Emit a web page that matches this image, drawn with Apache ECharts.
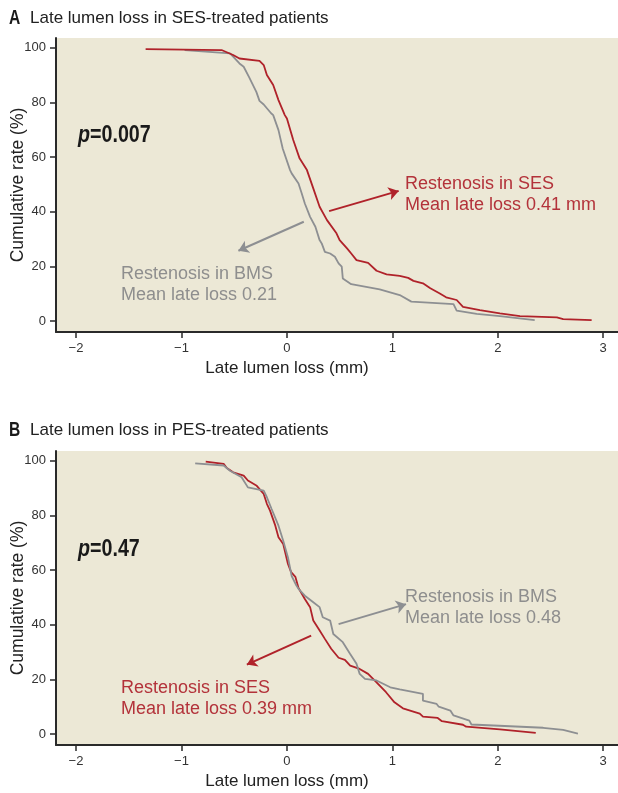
<!DOCTYPE html>
<html>
<head>
<meta charset="utf-8">
<script src="https://cdn.jsdelivr.net/npm/echarts@6/dist/echarts.min.js"></script>
<style>
html,body{margin:0;padding:0;background:#fff;}
#chart{width:618px;height:793px;}
</style>
</head>
<body>
<div id="chart"></div>
<script>
// ---- Data (late lumen loss mm, cumulative rate %) ----
const xTicks = [-2, -1, 0, 1, 2, 3];
const yTicks = [0, 20, 40, 60, 80, 100];

const panelA_SES = [[-1.34,99.4],[-0.62,99.1],[-0.51,97.3],[-0.45,96],[-0.26,95.1],[-0.22,93.6],[-0.19,90],[-0.13,86.3],[-0.08,80.8],[-0.02,75.3],[0.0,74.1],[0.06,66.2],[0.12,59.5],[0.19,55.2],[0.25,48.5],[0.31,41.8],[0.38,36.9],[0.47,32.1],[0.50,29.6],[0.57,26.6],[0.61,24.7],[0.66,22.3],[0.77,21.3],[0.85,18.4],[0.945,17.1],[1.07,16.5],[1.15,15.8],[1.20,14.7],[1.29,13.8],[1.36,12],[1.45,10.1],[1.51,8.7],[1.61,7.7],[1.67,5.2],[1.83,4.0],[2.02,2.8],[2.21,1.8],[2.56,1.35],[2.62,0.73],[2.89,0.37]];
const panelA_BMS = [[-0.97,99.1],[-0.54,97.9],[-0.51,96.7],[-0.45,94.2],[-0.41,93],[-0.36,89.3],[-0.29,83.8],[-0.26,80.5],[-0.22,79.2],[-0.15,76],[-0.13,75.3],[-0.08,69.8],[-0.04,63.1],[0.03,55.2],[0.045,54],[0.11,50.3],[0.14,46.7],[0.17,43],[0.22,38.1],[0.27,34.5],[0.31,29.6],[0.33,28.4],[0.36,25.3],[0.41,24.7],[0.455,23.5],[0.49,21.1],[0.52,19.9],[0.53,15.6],[0.61,13.5],[0.88,11.6],[1.07,9.5],[1.18,7.1],[1.58,6.2],[1.61,3.8],[1.80,2.6],[2.02,1.8],[2.35,0.37]];
const panelB_SES = [[-0.77,99.6],[-0.60,98.8],[-0.57,97.3],[-0.51,95.7],[-0.41,94.5],[-0.37,92.7],[-0.29,90.9],[-0.22,87.8],[-0.19,84.2],[-0.16,81.7],[-0.11,76.2],[-0.08,72],[-0.035,69.5],[0.01,62.2],[0.04,59.2],[0.08,57.5],[0.11,53.4],[0.17,49.4],[0.22,46.4],[0.25,41.5],[0.30,38.5],[0.36,34.8],[0.42,31.2],[0.49,27.9],[0.55,27.1],[0.60,25],[0.69,23.8],[0.77,22],[0.85,18.9],[0.94,15.3],[1.02,11.6],[1.10,9.4],[1.26,7.5],[1.29,6.4],[1.43,5.9],[1.47,4.7],[1.67,3.4],[1.70,2.7],[2.02,1.75],[2.36,0.44]];
const panelB_BMS = [[-0.87,99],[-0.60,98.2],[-0.54,96.3],[-0.43,93.9],[-0.37,90.2],[-0.22,89],[-0.19,86.6],[-0.145,82.3],[-0.08,76.2],[-0.035,70.7],[0.01,64.6],[0.045,57.8],[0.09,54.3],[0.11,53.1],[0.17,50.6],[0.25,48.2],[0.31,46.4],[0.34,42.7],[0.41,41.5],[0.44,36.6],[0.53,33.6],[0.60,29.3],[0.66,25.7],[0.69,22],[0.74,20.2],[0.85,19.6],[0.98,17.1],[1.07,16.3],[1.29,14.7],[1.29,12.2],[1.42,11],[1.44,10],[1.55,8.6],[1.58,6.8],[1.73,4.9],[1.75,3.5],[2.43,2.3],[2.62,1.5],[2.76,0.2]];

// arrows [from, to] in data coordinates
const arrowA_SES = [[0.40,40.2],[1.06,47.6]];
const arrowA_BMS = [[0.16,36.3],[-0.46,25.7]];
const arrowB_BMS = [[0.49,40.2],[1.13,47.5]];
const arrowB_SES = [[0.23,36.0],[-0.38,25.4]];

const RED = '#b0222a';
const GRAY = '#8d8f92';
const RED_TXT = '#b3323a';
const GRAY_TXT = '#8e8e8e';
const BG = '#ece8d6';
const AXIS = '#2a2a2a';
const SANS = '"Liberation Sans",Arial,sans-serif';

function xAx(gi){
  return {
    type:'value', gridIndex:gi, min:-2.19, max:3.14,
    axisLine:{show:true, onZero:false, lineStyle:{color:AXIS, width:2}},
    axisTick:{show:true, customValues:xTicks, length:6, lineStyle:{color:AXIS, width:1.5}},
    axisLabel:{customValues:xTicks, margin:10, color:'#333', fontFamily:SANS, fontSize:13,
      formatter:v=>String(v).replace('-', '\u2212')},
    splitLine:{show:false}
  };
}
function yAx(gi){
  return {
    type:'value', gridIndex:gi, min:-4, max:103.5,
    axisLine:{show:true, onZero:false, lineStyle:{color:AXIS, width:2}},
    axisTick:{show:true, customValues:yTicks, length:6, lineStyle:{color:AXIS, width:1.5}},
    axisLabel:{customValues:yTicks, margin:10, color:'#333', fontFamily:SANS, fontSize:13},
    splitLine:{show:false}
  };
}
function lineS(data, color, gi, arrow){
  const s = {
    type:'line', data:data, xAxisIndex:gi, yAxisIndex:gi,
    showSymbol:false, symbol:'none', smooth:false,
    lineStyle:{color:color, width:1.8}, itemStyle:{color:color},
    animation:false, silent:true
  };
  if (arrow){
    s.markLine = {
      silent:true, animation:false, symbol:['none','arrow'], symbolSize:[10,10],
      label:{show:false},
      lineStyle:{color:color, width:2, type:'solid'},
      data:[[{coord:arrow[0]},{coord:arrow[1]}]]
    };
  }
  return s;
}
function pText(y, str){
  return {type:'text', x:78, y:y, z:10, scaleX:0.82, style:{
    text:'{i|p}{b|' + str + '}', textVerticalAlign:'middle',
    rich:{i:{fontFamily:SANS, fontWeight:'bold', fontStyle:'italic', fontSize:24, fill:'#1a1a1a', color:'#1a1a1a'},
          b:{fontFamily:SANS, fontWeight:'bold', fontSize:24, fill:'#1a1a1a', color:'#1a1a1a'}}}};
}
function ann(x, y, text, color){
  return {type:'text', x:x, y:y, z:10, style:{text:text, fill:color, font:'18px '+SANS, textVerticalAlign:'middle'}};
}
function yName(cy){
  return {type:'text', x:18, y:cy, rotation:Math.PI/2, style:{text:'Cumulative rate (%)', fill:'#222', font:'17.5px '+SANS, textAlign:'center', textVerticalAlign:'middle'}};
}

const chart = echarts.init(document.getElementById('chart'), null, {renderer:'canvas'});
chart.setOption({
  animation:false,
  backgroundColor:'#ffffff',
  grid:[
    {left:56, right:0, top:38, height:294, show:true, backgroundColor:BG, borderWidth:0, containLabel:false, outerBoundsMode:'none'},
    {left:56, right:0, top:451, height:294, show:true, backgroundColor:BG, borderWidth:0, containLabel:false, outerBoundsMode:'none'}
  ],
  xAxis:[xAx(0), xAx(1)],
  yAxis:[yAx(0), yAx(1)],
  series:[
    lineS(panelA_BMS, GRAY, 0, arrowA_BMS),
    lineS(panelA_SES, RED, 0, arrowA_SES),
    lineS(panelB_SES, RED, 1, arrowB_SES),
    lineS(panelB_BMS, GRAY, 1, arrowB_BMS)
  ],
  graphic:[
    {type:'text', x:9, y:18, scaleX:0.78, style:{text:'A', fill:'#1a1a1a', font:'bold 20px '+SANS, textVerticalAlign:'middle'}},
    {type:'text', x:30, y:18, style:{text:'Late lumen loss in SES-treated patients', fill:'#222', font:'17px '+SANS, textVerticalAlign:'middle'}},
    {type:'text', x:9, y:430, scaleX:0.78, style:{text:'B', fill:'#1a1a1a', font:'bold 20px '+SANS, textVerticalAlign:'middle'}},
    {type:'text', x:30, y:430, style:{text:'Late lumen loss in PES-treated patients', fill:'#222', font:'17px '+SANS, textVerticalAlign:'middle'}},
    {type:'text', x:287, y:368, style:{text:'Late lumen loss (mm)', fill:'#222', font:'17px '+SANS, textAlign:'center', textVerticalAlign:'middle'}},
    {type:'text', x:287, y:781, style:{text:'Late lumen loss (mm)', fill:'#222', font:'17px '+SANS, textAlign:'center', textVerticalAlign:'middle'}},
    yName(185),
    yName(598),
    pText(135, '=0.007'),
    pText(549, '=0.47'),
    ann(405, 184, 'Restenosis in SES', RED_TXT),
    ann(405, 205, 'Mean late loss 0.41 mm', RED_TXT),
    ann(121, 274, 'Restenosis in BMS', GRAY_TXT),
    ann(121, 295, 'Mean late loss 0.21', GRAY_TXT),
    ann(405, 597, 'Restenosis in BMS', GRAY_TXT),
    ann(405, 618, 'Mean late loss 0.48', GRAY_TXT),
    ann(121, 688, 'Restenosis in SES', RED_TXT),
    ann(121, 709, 'Mean late loss 0.39 mm', RED_TXT)
  ]
});
</script>
</body>
</html>
